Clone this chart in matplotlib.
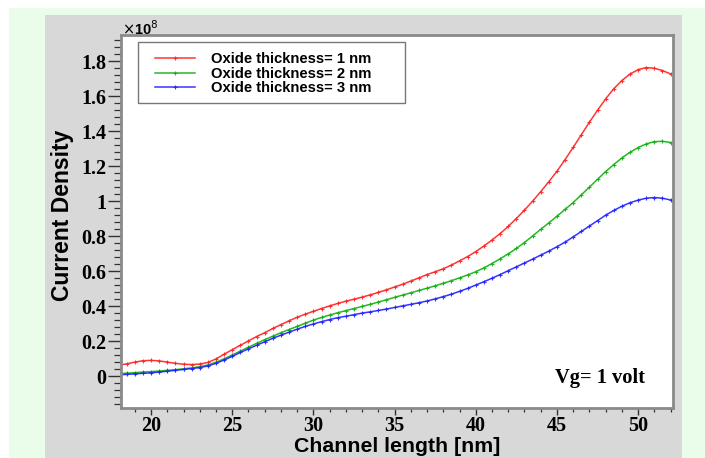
import matplotlib
matplotlib.use("Agg")
import matplotlib.pyplot as plt
from matplotlib.patches import Rectangle
from matplotlib.ticker import MultipleLocator, FixedLocator

# Channel length grid (nm)
channel_length = [
    18.0, 18.5, 19.0, 19.5, 20.0, 20.5, 21.0, 21.5, 22.0, 22.5,
    23.0, 23.5, 24.0, 24.5, 25.0, 25.5, 26.0, 26.5, 27.0, 27.5,
    28.0, 28.5, 29.0, 29.5, 30.0, 30.5, 31.0, 31.5, 32.0, 32.5,
    33.0, 33.5, 34.0, 34.5, 35.0, 35.5, 36.0, 36.5, 37.0, 37.5,
    38.0, 38.5, 39.0, 39.5, 40.0, 40.5, 41.0, 41.5, 42.0, 42.5,
    43.0, 43.5, 44.0, 44.5, 45.0, 45.5, 46.0, 46.5, 47.0, 47.5,
    48.0, 48.5, 49.0, 49.5, 50.0, 50.5, 51.0, 51.5, 52.0,
]

# Current density (x1e8) for oxide thickness 1 nm
density_1nm = [
    0.065, 0.072, 0.082, 0.090, 0.092, 0.089, 0.082, 0.075, 0.070, 0.068,
    0.071, 0.080, 0.100, 0.127, 0.153, 0.178, 0.203, 0.228, 0.250, 0.274,
    0.296, 0.318, 0.338, 0.356, 0.372, 0.388, 0.403, 0.417, 0.430, 0.441,
    0.453, 0.466, 0.480, 0.495, 0.511, 0.527, 0.545, 0.563, 0.582, 0.598,
    0.615, 0.636, 0.660, 0.685, 0.713, 0.745, 0.779, 0.816, 0.857, 0.902,
    0.950, 1.001, 1.055, 1.112, 1.172, 1.238, 1.308, 1.380, 1.452, 1.520,
    1.585, 1.643, 1.690, 1.727, 1.752, 1.764, 1.760, 1.747, 1.728,
]

# Current density (x1e8) for oxide thickness 2 nm
density_2nm = [
    0.016, 0.019, 0.022, 0.025, 0.028, 0.031, 0.035, 0.039, 0.044, 0.049,
    0.056, 0.066, 0.081, 0.101, 0.123, 0.145, 0.167, 0.189, 0.210, 0.230,
    0.250, 0.268, 0.286, 0.304, 0.322, 0.337, 0.351, 0.364, 0.376, 0.388,
    0.400, 0.412, 0.425, 0.438, 0.452, 0.465, 0.478, 0.491, 0.504, 0.518,
    0.532, 0.547, 0.563, 0.580, 0.598, 0.620, 0.645, 0.672, 0.700, 0.731,
    0.765, 0.802, 0.840, 0.877, 0.915, 0.954, 0.993, 1.037, 1.081, 1.126,
    1.170, 1.210, 1.248, 1.280, 1.307, 1.328, 1.341, 1.343, 1.336,
]

# Current density (x1e8) for oxide thickness 3 nm
density_3nm = [
    0.009, 0.012, 0.015, 0.018, 0.021, 0.025, 0.030, 0.035, 0.040, 0.045,
    0.051, 0.060, 0.075, 0.094, 0.115, 0.137, 0.158, 0.178, 0.198, 0.218,
    0.236, 0.253, 0.270, 0.286, 0.300, 0.313, 0.325, 0.336, 0.344, 0.353,
    0.362, 0.369, 0.377, 0.385, 0.394, 0.403, 0.412, 0.421, 0.431, 0.443,
    0.456, 0.470, 0.486, 0.503, 0.522, 0.541, 0.561, 0.582, 0.604, 0.626,
    0.648, 0.670, 0.693, 0.716, 0.741, 0.767, 0.797, 0.828, 0.859, 0.890,
    0.921, 0.948, 0.972, 0.992, 1.007, 1.018, 1.022, 1.018, 1.008,
]

series_labels = ["Oxide thickness= 1 nm", "Oxide thickness= 2 nm", "Oxide thickness= 3 nm"]
series_colors = ["#ff2020", "#10b010", "#2020ff"]

x_ticks = [20, 25, 30, 35, 40, 45, 50]
y_ticks = [0, 0.2, 0.4, 0.6, 0.8, 1.0, 1.2, 1.4, 1.6, 1.8]
y_tick_labels = ["0", "0.2", "0.4", "0.6", "0.8", "1", "1.2", "1.4", "1.6", "1.8"]

W, H = 705, 458
fig = plt.figure(figsize=(W / 100, H / 100), dpi=100)
fig.patch.set_facecolor("white")

# background panels
fig.patches.append(Rectangle((9 / W, 0), 1 - 9 / W, 1 - 8 / H,
                             transform=fig.transFigure, facecolor="#eafcea",
                             edgecolor="none", zorder=-3))
fig.patches.append(Rectangle((45 / W, 0), (682 - 45) / W, 1 - 15 / H,
                             transform=fig.transFigure, facecolor="#d8d8d8",
                             edgecolor="none", zorder=-2))

ax = fig.add_axes([121 / W, 1 - 408 / H, (673 - 121) / W, (408 - 35) / H])
ax.set_facecolor("white")

for ys, lab, col in zip([density_1nm, density_2nm, density_3nm], series_labels, series_colors):
    ax.plot(channel_length, ys, color=col, lw=1.1, marker="+", ms=3.5, mew=0.8,
            label=lab, alpha=0.9)

ax.set_xlim(18.15, 52.15)
ax.set_ylim(-0.18, 1.95)

serif_bold = dict(family="Liberation Serif", weight="bold", size=14.5)
ax.xaxis.set_major_locator(FixedLocator(x_ticks))
ax.xaxis.set_minor_locator(MultipleLocator(1))
ax.yaxis.set_major_locator(FixedLocator(y_ticks))
ax.yaxis.set_minor_locator(MultipleLocator(0.04))
ax.set_xticklabels([str(t) for t in x_ticks], fontdict=serif_bold)
ax.set_yticklabels(y_tick_labels, fontdict=serif_bold)

ax.tick_params(axis="y", which="major", direction="out", length=9.5, width=1.0,
               color="#333333", pad=1)
ax.tick_params(axis="y", which="minor", direction="out", length=5, width=0.9,
               color="#333333")
ax.tick_params(axis="x", which="major", direction="out", length=5, width=1.0,
               color="#333333", pad=0.5)
ax.tick_params(axis="x", which="minor", direction="out", length=3, width=0.9,
               color="#333333")

for sp in ax.spines.values():
    sp.set_color("#8a8a8a")
    sp.set_linewidth(2.0)

sans_bold = dict(family="Liberation Sans", weight="bold")
ax.set_xlabel("Channel length [nm]", fontsize=15.3, **sans_bold)
ax.xaxis.label.set_va("center")
ax.xaxis.set_label_coords(0.5, -(447 - 408) / 373)
ax.set_ylabel("Current Density", fontsize=16.5, **sans_bold)
ax.yaxis.label.set_va("center")
ax.yaxis.set_label_coords(-(121 - 62) / 552, 0.517)

fig.text(122 / W, 1 - 29 / H, r"$\times$10$^{8}$", ha="left", va="center",
         fontsize=10.5, family="Liberation Sans", weight="bold")

ax.text((645 - 121) / 552, 1 - (378 - 35) / 373, "Vg= 1 volt", transform=ax.transAxes,
        ha="right", va="center", fontsize=14.8, family="Liberation Serif", weight="bold")

# legend box drawn separately so its padding follows the frame
ax.add_patch(Rectangle((17 / 552, 1 - (103 - 35) / 373), 267 / 552, 61 / 373,
                       transform=ax.transAxes, facecolor="white",
                       edgecolor="#777777", lw=1.0, zorder=4))
leg = ax.legend(loc="upper left", bbox_to_anchor=((155 - 121) / 552, 1 - (52 - 35) / 373),
                frameon=False,
                prop=dict(family="Liberation Sans", weight="bold", size=10.6),
                handlelength=2.7, handletextpad=1.1, labelspacing=0.05,
                borderpad=0, borderaxespad=0)
leg.set_zorder(5)

fig.savefig("out.png", dpi=100)
